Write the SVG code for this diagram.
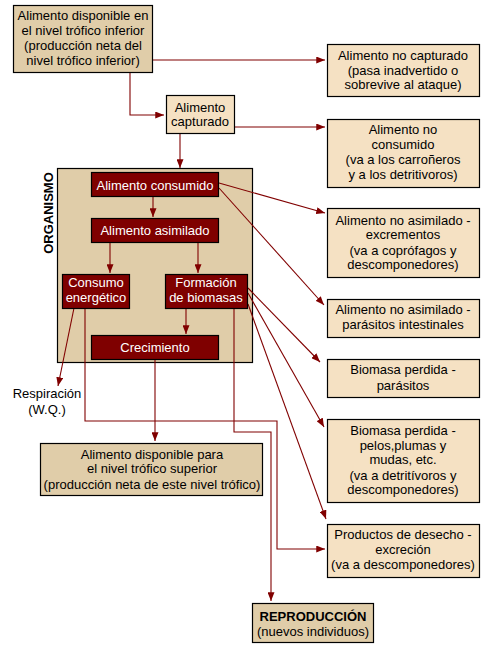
<svg xmlns="http://www.w3.org/2000/svg" width="500" height="652" viewBox="0 0 500 652">
<style>
text{font-family:"Liberation Sans",Arial,sans-serif;font-size:13px;text-anchor:middle;fill:#000}
.dk{fill:#E0CDA9;stroke:#000;stroke-width:1.2}
.lt{fill:#F5E1C3;stroke:#000;stroke-width:1.2}
.rd{fill:#7F0000;stroke:#000;stroke-width:1.2}
.w{fill:#fff}
.b{font-weight:bold}
#connectors path{fill:none;stroke:#800000;stroke-width:1.1}
</style>
<defs>
<marker id="ah" viewBox="0 0 10 8" refX="10" refY="4" markerWidth="9" markerHeight="7" markerUnits="userSpaceOnUse" orient="auto">
<path d="M0,0 L10,4 L0,8 z" fill="#800000"/>
</marker>
</defs>
<rect width="500" height="652" fill="#fff"/>

<g id="organismo">
<rect class="dk" x="57.5" y="168.5" width="195" height="194"/>
<text class="b" transform="translate(53,213) rotate(-90)">ORGANISMO</text>
</g>

<g id="connectors">
<path d="M152,60 H325" marker-end="url(#ah)"/>
<path d="M130,72 V115 H164" marker-end="url(#ah)"/>
<path d="M234,127 H325" marker-end="url(#ah)"/>
<path d="M180,133 V168" marker-end="url(#ah)"/>
<path d="M153,196 V217" marker-end="url(#ah)"/>
<path d="M110,242 V273" marker-end="url(#ah)"/>
<path d="M198,242 V273" marker-end="url(#ah)"/>
<path d="M186,308 V334" marker-end="url(#ah)"/>
<path d="M155,359 V441" marker-end="url(#ah)"/>
<path d="M219,183 L325,213" marker-end="url(#ah)"/>
<path d="M219,188 L324,305" marker-end="url(#ah)"/>
<path d="M248,288 L320,362" marker-end="url(#ah)"/>
<path d="M248,293 L324,427" marker-end="url(#ah)"/>
<path d="M248,304 L326,519" marker-end="url(#ah)"/>
<path d="M74,308 L58,386" marker-end="url(#ah)"/>
<path d="M85,308 V421 H277 V549 H325" marker-end="url(#ah)"/>
<path d="M234,308 V432 H271 V601" marker-end="url(#ah)"/>
</g>

<g id="disponible-inferior">
<rect class="dk" x="13.5" y="5.5" width="139" height="67"/>
<text x="83" y="20">Alimento disponible en</text>
<text x="83" y="35">el nivel trófico inferior</text>
<text x="83" y="50">(producción neta del</text>
<text x="83" y="65">nivel trófico inferior)</text>
</g>

<g id="capturado">
<rect class="lt" x="166.5" y="95.5" width="68" height="38"/>
<text x="200" y="111.5">Alimento</text>
<text x="200" y="126">capturado</text>
</g>

<g id="no-capturado">
<rect class="lt" x="327.5" y="44.5" width="152" height="52"/>
<text x="403" y="59.5">Alimento no capturado</text>
<text x="403" y="74.5">(pasa inadvertido o</text>
<text x="403" y="89">sobrevive al ataque)</text>
</g>

<g id="no-consumido">
<rect class="lt" x="327.5" y="119.5" width="152" height="68"/>
<text x="403" y="134">Alimento no</text>
<text x="403" y="149">consumido</text>
<text x="403" y="164">(va a los carroñeros</text>
<text x="403" y="179">y a los detritivoros)</text>
</g>

<g id="consumido">
<rect class="rd" x="91.5" y="172.5" width="127" height="24"/>
<text class="w" x="155" y="190">Alimento consumido</text>
</g>

<g id="asimilado">
<rect class="rd" x="91.5" y="218.5" width="127" height="24"/>
<text class="w" x="155" y="235">Alimento asimilado</text>
</g>

<g id="consumo-energetico">
<rect class="rd" x="62.5" y="274.5" width="67" height="34"/>
<text class="w" x="96" y="287">Consumo</text>
<text class="w" x="96" y="302">energético</text>
</g>

<g id="formacion-biomasas">
<rect class="rd" x="165.5" y="274.5" width="82" height="34"/>
<text class="w" x="206" y="287">Formación</text>
<text class="w" x="206" y="302">de biomasas</text>
</g>

<g id="crecimiento">
<rect class="rd" x="91.5" y="335.5" width="127" height="24"/>
<text class="w" x="155" y="352">Crecimiento</text>
</g>

<g id="respiracion">
<text x="47" y="397.5">Respiración</text>
<text x="47" y="413.5">(W.Q.)</text>
</g>

<g id="disponible-superior">
<rect class="dk" x="40.5" y="443.5" width="222" height="52"/>
<text x="152" y="458.5">Alimento disponible para</text>
<text x="152" y="473">el nivel trófico superior</text>
<text x="152" y="488.5">(producción neta de este nivel trófico)</text>
</g>

<g id="excrementos">
<rect class="lt" x="327.5" y="208.5" width="152" height="69"/>
<text x="403" y="224.5">Alimento no asimilado -</text>
<text x="403" y="239">excrementos</text>
<text x="403" y="254.5">(va a coprófagos y</text>
<text x="403" y="269">descomponedores)</text>
</g>

<g id="parasitos-intestinales">
<rect class="lt" x="327.5" y="299.5" width="152" height="38"/>
<text x="403" y="314">Alimento no asimilado -</text>
<text x="403" y="329">parásitos intestinales</text>
</g>

<g id="biomasa-parasitos">
<rect class="lt" x="327.5" y="359.5" width="152" height="38"/>
<text x="403" y="374">Biomasa perdida -</text>
<text x="403" y="389.5">parásitos</text>
</g>

<g id="biomasa-pelos">
<rect class="lt" x="327.5" y="419.5" width="152" height="83"/>
<text x="403" y="434.5">Biomasa perdida -</text>
<text x="403" y="449.5">pelos,plumas y</text>
<text x="403" y="464">mudas, etc.</text>
<text x="403" y="479.5">(va a detritívoros y</text>
<text x="403" y="494">descomponedores)</text>
</g>

<g id="desecho">
<rect class="lt" x="327.5" y="524.5" width="152" height="53"/>
<text x="403" y="539">Productos de desecho -</text>
<text x="403" y="554">excreción</text>
<text x="403" y="568.5">(va a descomponedores)</text>
</g>

<g id="reproduccion">
<rect class="dk" x="252.5" y="603.5" width="121" height="39"/>
<text class="b" x="313" y="620.5">REPRODUCCIÓN</text>
<text x="313" y="635.5">(nuevos individuos)</text>
</g>
</svg>
